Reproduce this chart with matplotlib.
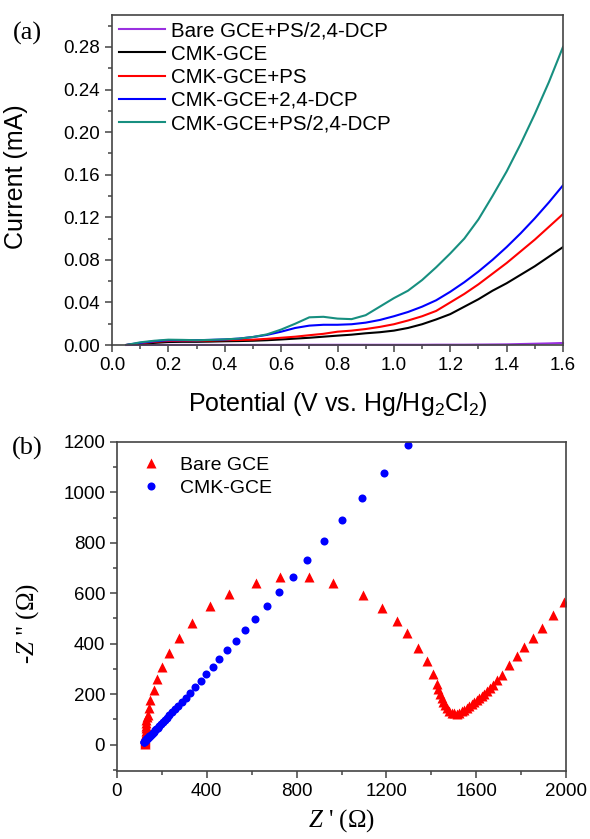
import matplotlib
matplotlib.use("Agg")
import matplotlib.pyplot as plt
from matplotlib.ticker import MultipleLocator

plt.rcParams["font.family"] = ["Liberation Sans", "DejaVu Sans"]
plt.rcParams["mathtext.default"] = "regular"
plt.rcParams["mathtext.fontset"] = "custom"
plt.rcParams["mathtext.it"] = "Liberation Serif:italic"
plt.rcParams["mathtext.rm"] = "Liberation Serif"

# ---- panel (a): linear sweep voltammetry ----
potential = [0.05, 0.10, 0.15, 0.20, 0.25, 0.30, 0.35, 0.40, 0.45, 0.50,
             0.55, 0.60, 0.65, 0.70, 0.75, 0.80, 0.85, 0.90, 0.95, 1.00,
             1.05, 1.10, 1.15, 1.20, 1.25, 1.30, 1.35, 1.40, 1.45, 1.50,
             1.55, 1.60]
bare_ps_dcp = [0.0, 0.0001, 0.0001, 0.0001, 0.0001, 0.0001, 0.0001, 0.0001, 0.0001, 0.0001,
               0.0001, 0.0001, 0.0002, 0.0002, 0.0002, 0.0002, 0.0002, 0.0002, 0.0002, 0.0002,
               0.0002, 0.0002, 0.0003, 0.0003, 0.0003, 0.0004, 0.0005, 0.0006, 0.0009, 0.0012,
               0.0015, 0.0019]
cmk = [0.0, 0.001, 0.002, 0.0028, 0.003, 0.003, 0.0032, 0.0035, 0.0037, 0.004,
       0.0045, 0.0052, 0.006, 0.0068, 0.0078, 0.0088, 0.0097, 0.011, 0.012, 0.0135,
       0.016, 0.0195, 0.024, 0.029, 0.036, 0.043, 0.051, 0.058, 0.066, 0.074,
       0.083, 0.092]
cmk_ps = [0.0, 0.0015, 0.003, 0.0038, 0.004, 0.004, 0.0042, 0.0045, 0.0047, 0.005,
          0.0058, 0.0068, 0.0078, 0.0092, 0.0105, 0.0125, 0.0135, 0.015, 0.017, 0.0195,
          0.023, 0.027, 0.032, 0.040, 0.048, 0.057, 0.067, 0.077, 0.088, 0.099,
          0.111, 0.123]
cmk_dcp = [0.0, 0.002, 0.0035, 0.0045, 0.0045, 0.0045, 0.0048, 0.0052, 0.006, 0.0075,
           0.0095, 0.0125, 0.016, 0.0182, 0.019, 0.019, 0.0195, 0.021, 0.0235, 0.027,
           0.031, 0.036, 0.042, 0.050, 0.059, 0.069, 0.080, 0.092, 0.105, 0.119,
           0.134, 0.150]
cmk_ps_dcp = [0.0, 0.0025, 0.004, 0.005, 0.0048, 0.0045, 0.0048, 0.0053, 0.006, 0.0075,
              0.010, 0.0145, 0.020, 0.026, 0.0265, 0.0248, 0.0243, 0.028, 0.036, 0.044,
              0.051, 0.061, 0.073, 0.086, 0.100, 0.118, 0.140, 0.163, 0.189, 0.217,
              0.247, 0.280]
lsv_labels = ["Bare GCE+PS/2,4-DCP", "CMK-GCE", "CMK-GCE+PS",
              "CMK-GCE+2,4-DCP", "CMK-GCE+PS/2,4-DCP"]
lsv_colors = ["#9a30e0", "#000000", "#ff0000", "#0000ff", "#178f80"]

# ---- panel (b): Nyquist plots ----
bare_zre = [125, 125, 125, 125, 126, 126, 126, 126, 127, 127, 128, 128, 129, 130, 131,
            134, 137, 141, 148, 163, 178, 200, 233, 277, 332, 415, 497, 619, 726, 855,
            963, 1094, 1179, 1249, 1293, 1342, 1380, 1406, 1424, 1430, 1439, 1446, 1453,
            1460, 1469, 1478, 1491, 1500, 1513, 1524, 1535, 1546, 1558, 1569, 1580, 1591,
            1602, 1613, 1624, 1635, 1647, 1660, 1673, 1692, 1713, 1747, 1780, 1813, 1851,
            1894, 1940, 1992]
bare_zim = [3, 6, 9, 13, 17, 22, 27, 33, 40, 47, 55, 64, 74, 84, 96,
            108, 116, 143, 176, 218, 259, 306, 363, 423, 483, 550, 599, 641, 663, 665,
            641, 592, 542, 489, 443, 383, 331, 278, 242, 222, 202, 185, 169,
            155, 143, 134, 125, 124, 123, 127, 132, 138, 145, 152, 160, 168,
            176, 184, 193, 202, 211, 223, 235, 255, 275, 317, 350, 385, 423,
            464, 513, 566]
cmk_zre = [120, 121, 122, 123, 124, 125, 127, 129, 131, 133, 135, 138, 141, 144, 147,
           151, 155, 159, 164, 169, 175, 181, 188, 195, 203, 212, 222, 233, 245, 258,
           273, 289, 307, 327, 349, 374, 398, 426, 456, 490, 528, 569, 614, 666, 723,
           782, 848, 922, 1002, 1090, 1189, 1297]
cmk_zim = [10, 11, 12, 13, 14, 15, 17, 18, 20, 22, 24, 27, 30, 33, 35,
           39, 43, 47, 51, 56, 62, 67, 74, 80, 88, 96, 106, 116, 128, 140,
           154, 169, 186, 206, 229, 252, 279, 308, 338, 374, 410, 454, 497, 550, 606,
           665, 731, 808, 890, 979, 1078, 1188]

W, H = 590, 839
fig = plt.figure(figsize=(W / 100, H / 100), dpi=100)
ax1 = fig.add_axes([112 / W, 1 - 345 / H, 451 / W, 330 / H])
ax2 = fig.add_axes([117 / W, 1 - 771 / H, 449 / W, 329 / H])

spine_col = "#444444"
for ax in (ax1, ax2):
    for s in ax.spines.values():
        s.set_color(spine_col)
        s.set_linewidth(1.2)
    ax.tick_params(which="both", direction="out", top=False, right=False,
                   color=spine_col, width=1.1, labelsize=13.5, pad=3.5)
    ax.tick_params(which="major", length=5)
    ax.tick_params(which="minor", length=3)

# (a)
series = [bare_ps_dcp, cmk, cmk_ps, cmk_dcp, cmk_ps_dcp]
for vals, lab, col in zip(series, lsv_labels, lsv_colors):
    ax1.plot(potential, vals, color=col, lw=1.5, label=lab,
             clip_on=not lab.startswith("Bare"))
ax1.set_xlim(0, 1.6)
ax1.set_ylim(0, 0.31)
ax1.xaxis.set_major_locator(MultipleLocator(0.2))
ax1.xaxis.set_minor_locator(MultipleLocator(0.1))
ax1.yaxis.set_major_locator(MultipleLocator(0.04))
ax1.yaxis.set_minor_locator(MultipleLocator(0.02))
ax1.xaxis.set_major_formatter(plt.FuncFormatter(lambda v, p: f"{v:.1f}"))
ax1.yaxis.set_major_formatter(plt.FuncFormatter(lambda v, p: f"{v:.2f}"))
ax1.set_ylabel("Current (mA)", fontsize=18)
ax1.yaxis.set_label_coords(-0.186, 0.51)
ax1.set_xlabel("Potential (V vs. Hg/Hg$_2$Cl$_2$)", fontsize=18)
ax1.xaxis.set_label_coords(0.5, -0.137)
ax1.legend(loc="upper left", frameon=False, fontsize=14.8, handlelength=2.26,
           handletextpad=0.3, labelspacing=0.2, borderpad=0.15, borderaxespad=0.17)

# (b)
ax2.plot(bare_zre, bare_zim, ls="none", marker="^", ms=6.5, color="#ff0000",
         mec="none", label="Bare GCE")
ax2.plot(cmk_zre, cmk_zim, ls="none", marker="o", ms=5.8, color="#0000ff",
         mec="none", label="CMK-GCE")
ax2.set_xlim(0, 2000)
ax2.set_ylim(-105, 1200)
ax2.xaxis.set_major_locator(MultipleLocator(400))
ax2.xaxis.set_minor_locator(MultipleLocator(200))
ax2.yaxis.set_major_locator(MultipleLocator(200))
ax2.yaxis.set_minor_locator(MultipleLocator(100))
ax2.set_ylabel('-$\\mathit{Z}$ " (Ω)', fontsize=18, family="Liberation Serif")
ax2.yaxis.set_label_coords(-0.169, 0.447)
ax2.set_xlabel("$\\mathit{Z}$ ' (Ω)", fontsize=18, family="Liberation Serif")
ax2.xaxis.set_label_coords(0.5, -0.11)
ax2.legend(loc="upper left", frameon=False, fontsize=14, numpoints=1,
           handlelength=2.0, handletextpad=0.5, labelspacing=0.25,
           borderpad=0.4, borderaxespad=0.35)

fig.text(13 / W, 1 - 33 / H, "(a)", fontsize=19, family="Liberation Serif", va="center")
fig.text(12 / W, 1 - 448 / H, "(b)", fontsize=19, family="Liberation Serif", va="center")

fig.savefig("out.png", dpi=100)
